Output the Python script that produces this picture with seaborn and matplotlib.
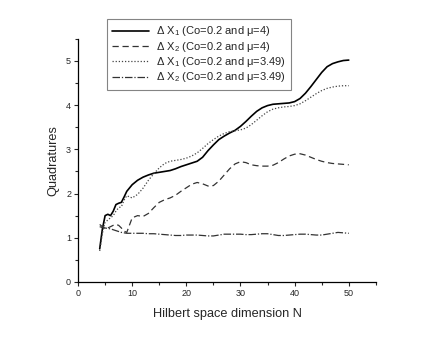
import numpy as np
import pandas as pd
import matplotlib
matplotlib.use('Agg')
import matplotlib.pyplot as plt
import seaborn as sns
from matplotlib.ticker import MultipleLocator

# sampled Hilbert space dimensions
N = np.concatenate([np.arange(4, 9, 0.5), np.arange(9, 51)])

dx1_mu4 = [0.75, 1.2, 1.5, 1.53, 1.5, 1.6, 1.75, 1.78, 1.8, 1.92,
           2.05, 2.2, 2.3, 2.37, 2.42, 2.46, 2.48, 2.5, 2.52, 2.56, 2.61,
           2.65, 2.69, 2.73, 2.82, 2.97, 3.1, 3.22, 3.3, 3.37, 3.43,
           3.52, 3.63, 3.75, 3.86, 3.94, 3.99, 4.02, 4.03, 4.04, 4.05,
           4.08, 4.15, 4.27, 4.42, 4.58, 4.74, 4.87, 4.94, 4.98, 5.01, 5.02]
dx2_mu4 = [1.3, 1.25, 1.2, 1.22, 1.25, 1.28, 1.3, 1.28, 1.22, 1.15,
           1.12, 1.45, 1.5, 1.48, 1.55, 1.68, 1.8, 1.86, 1.9, 1.96, 2.05,
           2.13, 2.21, 2.25, 2.22, 2.17, 2.18, 2.28, 2.42, 2.56, 2.67,
           2.72, 2.7, 2.65, 2.63, 2.62, 2.62, 2.64, 2.7, 2.78, 2.85,
           2.89, 2.9, 2.87, 2.82, 2.77, 2.73, 2.7, 2.68, 2.67, 2.66, 2.65]
dx1_mu349 = [0.7, 1.1, 1.35, 1.4, 1.45, 1.5, 1.6, 1.68, 1.7, 1.85,
             1.95, 1.9, 1.98, 2.12, 2.3, 2.45, 2.58, 2.68, 2.73, 2.75, 2.77,
             2.8, 2.85, 2.92, 3.02, 3.13, 3.22, 3.3, 3.36, 3.4, 3.42,
             3.44, 3.48, 3.56, 3.66, 3.76, 3.85, 3.91, 3.94, 3.96, 3.97,
             3.99, 4.03, 4.1, 4.18, 4.26, 4.33, 4.38, 4.41, 4.43, 4.44, 4.44]
dx2_mu349 = [1.25, 1.23, 1.22, 1.21, 1.2, 1.18, 1.16, 1.14, 1.12, 1.11,
             1.1, 1.1, 1.1, 1.1, 1.09, 1.09, 1.08, 1.07, 1.06, 1.05, 1.05,
             1.06, 1.06, 1.06, 1.05, 1.04, 1.04, 1.06, 1.08, 1.08, 1.08,
             1.08, 1.07, 1.07, 1.08, 1.09, 1.09, 1.07, 1.05, 1.05, 1.06,
             1.07, 1.08, 1.08, 1.07, 1.06, 1.06, 1.08, 1.1, 1.12, 1.11, 1.1]

labels = ['Δ X$_1$ (Co=0.2 and μ=4)',
          'Δ X$_2$ (Co=0.2 and μ=4)',
          'Δ X$_1$ (Co=0.2 and μ=3.49)',
          'Δ X$_2$ (Co=0.2 and μ=3.49)']

sns.set_style('ticks')
plt.rcParams['font.family'] = ['Liberation Sans', 'DejaVu Sans']
plt.rcParams['mathtext.fontset'] = 'custom'
plt.rcParams['mathtext.rm'] = 'Liberation Sans'
plt.rcParams['mathtext.it'] = 'Liberation Sans:italic'

fig = plt.figure(figsize=(4.36, 3.38), dpi=100)
ax = fig.add_axes([0.179, 0.166, 0.683, 0.719])

series = [dx1_mu4, dx2_mu4, dx1_mu349, dx2_mu349]
styles = [('-', 1.2, 'black'), ((0, (5, 3)), 0.9, '#333333'),
          ((0, (1, 1.5)), 0.9, '#444444'), ((0, (6, 1.5, 1, 1.5)), 0.9, '#333333')]
for y, lab, (ls, lw, c) in zip(series, labels, styles):
    sns.lineplot(x=N, y=y, ax=ax, label=lab, color=c, linewidth=lw, linestyle=ls)

ax.set_xlim(0, 55)
ax.set_ylim(0, 5.5)
ax.xaxis.set_major_locator(MultipleLocator(10))
ax.xaxis.set_minor_locator(MultipleLocator(5))
ax.yaxis.set_major_locator(MultipleLocator(1))
ax.yaxis.set_minor_locator(MultipleLocator(0.5))
ax.tick_params(which='major', direction='out', length=3, width=0.8, labelsize=6.5, pad=2)
ax.tick_params(which='minor', direction='out', length=2, width=0.8)
sns.despine(ax=ax)
for s in ['left', 'bottom']:
    ax.spines[s].set_linewidth(0.9)
    ax.spines[s].set_color('black')

ax.set_xlabel('Hilbert space dimension N', fontsize=9.2, labelpad=7)
ax.set_ylabel('Quadratures', fontsize=9.2, labelpad=5)

leg = ax.legend(loc='upper left', bbox_to_anchor=(0.245, 0.944),
                bbox_transform=fig.transFigure, fontsize=8, frameon=True,
                fancybox=False, borderaxespad=0, handlelength=3.3,
                labelspacing=0.12, borderpad=0.5, handletextpad=0.6)
leg.get_frame().set_edgecolor('#666666')
leg.get_frame().set_linewidth(0.8)

fig.savefig('out.png', dpi=100)
